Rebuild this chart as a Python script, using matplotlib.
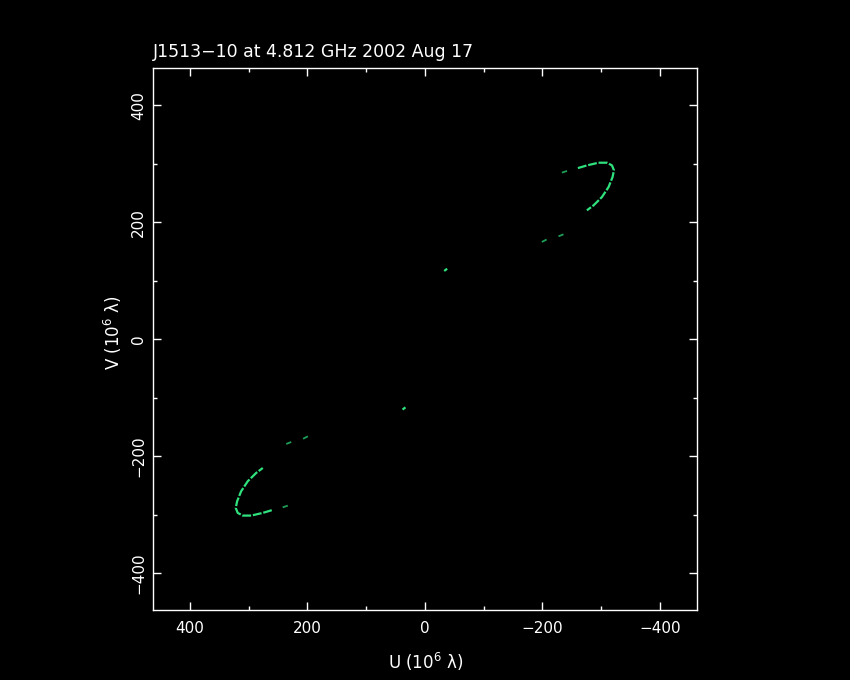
import matplotlib
matplotlib.use("Agg")
import matplotlib.pyplot as plt
from matplotlib.ticker import MultipleLocator
import numpy as np

# uv-track segments (U, V in 10^6 lambda); conjugate points (-U,-V) are also plotted
arc_u = [-260.7, -276.0, -295.8, -310.2, -318.7, -322.1, -319.7, -312.9, -301.6, -287.3, -276.0]
arc_v = [292.4, 297.0, 301.6, 301.6, 297.0, 288.5, 277.1, 260.0, 242.9, 228.7, 220.2]
seg1_u = [-233.4, -243.6]
seg1_v = [284.6, 288.0]
seg2_u = [-199.2, -210.5]
seg2_v = [166.1, 171.9]
seg3_u = [-227.6, -236.1]
seg3_v = [175.8, 179.2]
short_u = [-33.0, -38.0]
short_v = [116.6, 120.4]

title = "J1513\u221210 at 4.812 GHz 2002 Aug 17"
xlabel = "U (10$^6$ \u03bb)"
ylabel = "V (10$^6$ \u03bb)"
lim = 463

plt.rcParams['font.family'] = ['DejaVu Sans']
W, H = 850, 680
fig = plt.figure(figsize=(8.5, 6.8), dpi=100, facecolor='black')
ax = fig.add_axes([153 / W, 1 - 610 / H, (696.7 - 153) / W, (610 - 68.3) / H], facecolor='black')

green = '#2fe27e'
dim = '#1f9e58'
segs = [(arc_u, arc_v, green, 1.6, (4, 0.8)), (seg1_u, seg1_v, dim, 1.3, (3, 1)),
        (seg2_u, seg2_v, dim, 1.3, (3, 1.2)), (seg3_u, seg3_v, dim, 1.3, (3, 1.2)),
        (short_u, short_v, green, 1.6, None)]
for u, v, c, lw, d in segs:
    u = np.array(u); v = np.array(v)
    for sgn in (1, -1):
        ln, = ax.plot(sgn * u, sgn * v, color=c, lw=lw, solid_capstyle='butt', dash_capstyle='butt')
        if d is not None:
            ln.set_dashes(d)

ax.set_xlim(lim, -lim)
ax.set_ylim(-lim, lim)
for s in ax.spines.values():
    s.set_color('white')
    s.set_linewidth(1.0)
ax.xaxis.set_major_locator(MultipleLocator(200))
ax.xaxis.set_minor_locator(MultipleLocator(100))
ax.yaxis.set_major_locator(MultipleLocator(200))
ax.yaxis.set_minor_locator(MultipleLocator(100))
ax.tick_params(which='both', direction='in', top=True, right=True, colors='white', width=1.0,
               labelsize=11, labelcolor='white')
ax.tick_params(which='major', length=6)
ax.tick_params(which='minor', length=3)
ax.tick_params(axis='x', pad=8)
ax.tick_params(axis='y', pad=5)
for lab in ax.get_yticklabels():
    lab.set_rotation(90)
    lab.set_va('center')
    lab.set_ha('right')

fig.text(153 / W, 1 - 57 / H, title, color='white', fontsize=12.5, ha='left', va='baseline')
fig.text(426 / W, 1 - 662 / H, xlabel, color='white', fontsize=12, ha='center', va='center')
fig.text(113 / W, 1 - 333 / H, ylabel, color='white', fontsize=12, ha='center', va='center', rotation=90)

fig.savefig('out.png', dpi=100, facecolor='black')
